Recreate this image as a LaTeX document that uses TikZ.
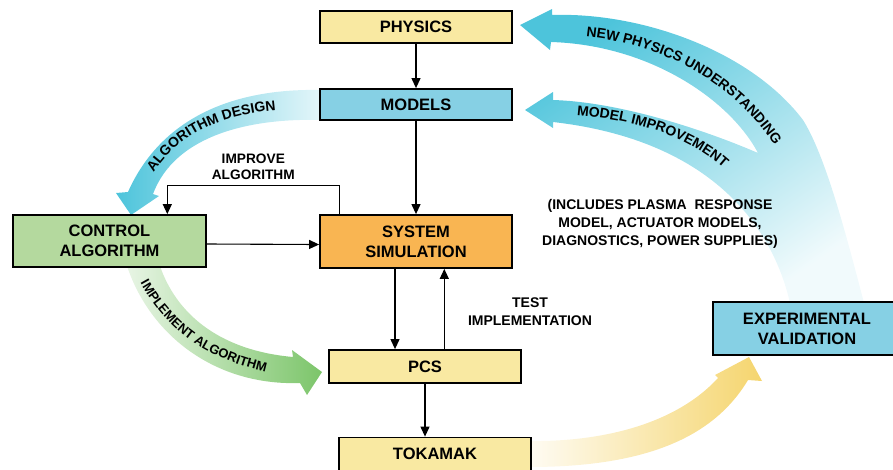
\documentclass[tikz,border=0pt]{standalone}
\usepackage{fontspec}
\setmainfont{Liberation Sans}
\usetikzlibrary{arrows.meta,decorations.text,calc}

\definecolor{boxyellow}{HTML}{F9E9A2}
\definecolor{boxcyan}{HTML}{86D0E4}
\definecolor{boxgreen}{HTML}{B4D99E}
\definecolor{boxorange}{HTML}{F9B552}
\definecolor{arrcyan}{HTML}{4DC4DB}
\definecolor{arrgreen}{HTML}{7CC56A}
\definecolor{arryellow}{HTML}{F5D56E}

\newcommand{\boxfont}{\fontsize{16.5}{20}\selectfont\bfseries}
\newcommand{\lblfont}{\fontsize{14}{17.8}\selectfont\bfseries}
\newcommand{\arrfont}{\fontsize{14}{14}\selectfont\bfseries}
\newcommand{\arrfontsm}{\fontsize{13}{14}\selectfont\bfseries}

\begin{document}
\begin{tikzpicture}[x=1pt,y=-1pt,
  box/.style={draw=black, line width=1.8pt, inner sep=0pt, align=center, font=\boxfont},
  conn/.style={line width=1.1pt, -{Triangle[length=10pt,width=9pt]}},
  lbl/.style={align=center, font=\lblfont, inner sep=0pt},
  arrtext/.style={decorate, decoration={text along path, text align=center, text={#1}}}
]
\useasboundingbox (0,0) rectangle (893,469);

% big feedback arrow (new physics understanding / model improvement)
\shade[top color=arrcyan, middle color=arrcyan!78!white, bottom color=arrcyan!8!white, shading angle=35]
  (520,25) -- (552,9) -- (552,15) .. controls (640,12) and (750,50) .. (803,120)
  .. controls (825,155) and (845,230) .. (864,303) -- (790,303)
  .. controls (772,225) and (710,140) .. (553,122) -- (553,128) -- (525,110) -- (553,92) -- (553,100)
  .. controls (620,102) and (705,130) .. (758,153)
  .. controls (730,100) and (650,45) .. (551,42) -- (550,50) -- cycle;

% algorithm design arrow
\shade[left color=arrcyan, middle color=arrcyan!85!white, right color=arrcyan!15!white]
  (321,90) .. controls (230,88) and (160,120) .. (128,192) -- (116,193) -- (131,215) -- (159,196) -- (153,194)
  .. controls (175,135) and (250,118) .. (321,120) -- cycle;

% implement algorithm arrow
\shade[left color=arrgreen!18!white, right color=arrgreen]
  (127,266) .. controls (150,335) and (215,386) .. (300,383) -- (307,395) -- (322,372) -- (292,350) -- (293,357)
  .. controls (215,350) and (175,310) .. (160,266) -- cycle;

% tokamak to experimental validation arrow
\shade[left color=arryellow!8!white, middle color=arryellow!80!white, right color=arryellow]
  (529,441) .. controls (600,442) and (675,425) .. (718,378) -- (715,375) -- (749,357) -- (762,381) -- (748,380)
  .. controls (715,435) and (650,467) .. (529,467) -- cycle;

% texts along the arrows
\path[arrtext={|\arrfont|ALGORITHM DESIGN}] (144,190) .. controls (168,138) and (218,111) .. (296,109);
\path[arrtext={|\arrfont|NEW PHYSICS UNDERSTANDING}] (564,35) .. controls (660,39) and (740,82) .. (786,164);
\path[arrtext={|\arrfont|MODEL IMPROVEMENT}] (556,114) .. controls (630,117) and (697,135) .. (738,183);
\path[arrtext={|\arrfontsm|IMPLEMENT ALGORITHM}] (132,266) .. controls (160,328) and (205,362) .. (284,376);

% boxes
\node[box, fill=boxyellow, minimum width=192pt, minimum height=32pt] (phys) at (416,27) {PHYSICS};
\node[box, fill=boxcyan, minimum width=192pt, minimum height=31pt] (models) at (416,104.5) {MODELS};
\node[box, fill=boxgreen, minimum width=193pt, minimum height=52pt] (ctrl) at (109.5,241) {CONTROL\\ALGORITHM};
\node[box, fill=boxorange, minimum width=192pt, minimum height=53pt] (sim) at (416,241.5) {SYSTEM\\SIMULATION};
\node[box, fill=boxyellow, minimum width=192pt, minimum height=33pt] (pcs) at (425,366.5) {PCS};
\node[box, fill=boxyellow, minimum width=192pt, minimum height=33pt] (tok) at (435,454) {TOKAMAK};
\node[box, fill=boxcyan, minimum width=200pt, minimum height=53pt, anchor=west] (exp) at (712,328.5) {};
\node[font=\boxfont, align=center, inner sep=0pt] (explbl) at (807,328.5) {EXPERIMENTAL\\VALIDATION};

% connectors
\draw[conn] (phys) -- (models);
\draw[conn] (models) -- (sim);
\draw[conn] ([yshift=-3pt]ctrl.east) -- ([yshift=-3pt]sim.west);
\draw[conn] ([xshift=-21pt]sim.south) -- ([xshift=-30pt]pcs.north);
\draw[conn] ([xshift=19.3pt]pcs.north) -- ([xshift=28.3pt]sim.south);
\draw[conn] (pcs.south) -- (pcs.south |- tok.north);
\draw[conn] ([xshift=-76.7pt]sim.north) -- ++(0,-29) -| ([xshift=57.8pt]ctrl.north);

% labels
\node[lbl, font=\fontsize{13.7}{16.7}\selectfont\bfseries] (improve) at (253.3,166.7) {IMPROVE\\ALGORITHM};
\node[lbl] (test) at (530,312) {TEST\\IMPLEMENTATION};
\node[lbl] (incl) at (660,224) {(INCLUDES PLASMA\ \ RESPONSE\\MODEL, ACTUATOR MODELS,\\DIAGNOSTICS, POWER SUPPLIES)};
\end{tikzpicture}
\end{document}
